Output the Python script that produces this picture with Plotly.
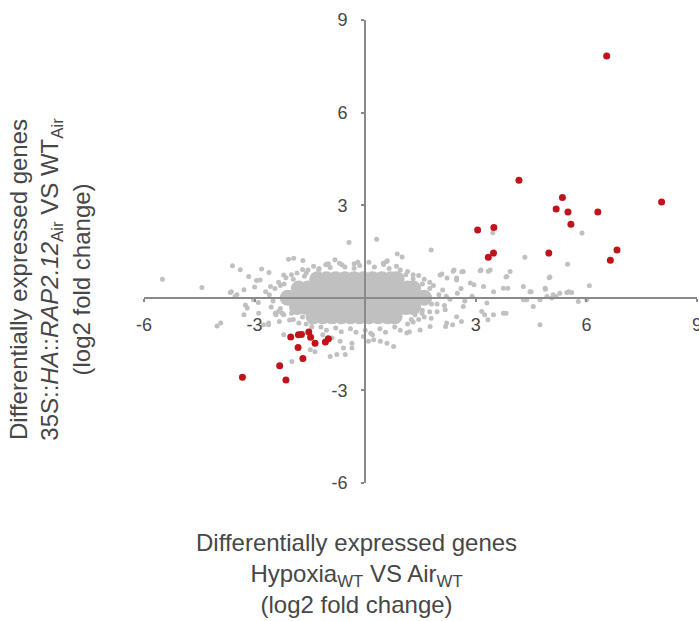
import plotly.graph_objects as go

# Log2 fold change: Hypoxia(WT) vs Air(WT) on x, 35S::HA::RAP2.12(Air) vs WT(Air) on y

# Dense body of the gene cloud near the origin (rows of overlapping markers)
core_x = [-1.3, -1.05, -0.8, -0.55, -0.3, -0.05, 0.2, 0.45, 0.7, 0.85,
          -1.8, -1.55, -1.3, -1.05, -0.8, -0.55, -0.3, -0.05, 0.2, 0.45, 0.7, 0.95, 1.15, 1.3,
          -2.1, -1.85, -1.6, -1.35, -1.1, -0.85, -0.6, -0.35, -0.1, 0.15, 0.4, 0.65, 0.9, 1.15, 1.4, 1.6,
          -1.85, -1.6, -1.35, -1.1, -0.85, -0.6, -0.35, -0.1, 0.15, 0.4, 0.65, 0.9, 1.1, 1.3,
          -1.4, -1.15, -0.9, -0.65, -0.4, -0.15, 0.1, 0.35, 0.6, 0.8]
core_y = ([0.6] * 10 + [0.3] * 14 + [0.0] * 16 + [-0.3] * 14 + [-0.6] * 10)

# Individual genes scattered around the dense body
gray_x = [-2.45, -2.5, -2.35, -2.15, -1.85, -1.55, -1.25, -0.95, -0.55, -0.15, 0.25, 0.65, 0.95, 1.3,
          1.6, 1.85, 2.0, 1.95, 1.75, 1.45, 1.15, 0.8, 0.4, 0.0, -0.4, -0.8, -1.2, -1.6, -1.95, -2.25,
          -2.6, -2.55, -2.3, -2.0, -1.7, -1.4, -1.05, -0.7, -0.3, 0.1, 0.5, 0.85, 1.15, 1.45, 1.75,
          2.1, 2.2, 2.3, 2.15, 1.95, 1.6, 1.3, 0.95, 0.55, 0.15, -0.25, -0.65, -1.05, -1.45, -1.8, -2.05,
          -2.2, -1.95, -1.65, 1.3, 1.55, 1.75, -2.3, -2.0, -1.7, 1.35, 1.55, 1.8, 1.1, 1.25, -1.6, -1.45,
          -5.5, -4.43, -3.6, -3.39, -2.95, -2.81, -2.61, -2.08, -1.94, -1.69, -1.07, -0.82, -1.26,
          -3.63, -3.53, -3.29, -3.2, -3.29, -2.42, -2.33, -4.02, -3.92, 0.49, 0.58, -0.3, -0.63,
          -3.66, -3.48, -3.16, -2.85, -3.25, -3.03, -2.89, -2.62, -2.44, -2.21, -2.57, -2.76, -2.62,
          -2.35, -2.21, -2.21, -1.99, -1.49, -1.36, -0.95, -0.77, -0.54, -0.68, -0.36, -0.59, -0.36,
          0.09, 0.23, 0.41, 0.59, 0.77, 1.13, 1.49, 1.76, -0.05, -1.15, -0.9,
          -0.44, 0.31, 0.87, 1.0, 1.79, 2.03, 2.22, 2.41, 2.66, 2.95, 3.14, 3.39, 2.08, 2.48,
          2.39, 2.62, 3.12, 3.34, 3.84, 4.99, 3.82, 3.87, 4.5, 4.89, 4.93, 5.18, 5.52,
          2.48, 2.85, 3.21, 3.48, 3.75, 4.29, 4.38, 3.3, 3.16, 3.48, 3.75, 2.48, 2.21, 2.66, 2.17,
          3.93, 5.01, 6.08, 4.47, 4.88, 5.1, 5.28, 5.47, 5.6, 4.29, 4.56, 4.74, 5.78, 6.01, 4.74, 5.06,
          3.82, 3.24, 3.33, 2.18, 2.37, 2.61, 1.54, 1.79,
          3.46, 5.88, 4.33, 5.49, 0.6, -0.2, -1.0, 1.2, -1.7, 0.2,
          2.5, 2.7, 2.9, 2.6, -2.7, -2.9, -3.0]
gray_y = [0.3, -0.1, 0.5, 0.65, 0.8, 0.9, 0.95, 0.98, 1.0, 1.05, 1.0, 0.95, 0.9, 0.75,
          0.6, 0.4, 0.1, -0.2, -0.45, -0.7, -0.85, -0.95, -1.0, -1.05, -1.0, -0.98, -0.95, -0.85, -0.7, -0.5,
          0.1, -0.3, 0.4, 0.75, 0.92, 1.02, 1.08, 1.12, 1.1, 1.15, 1.08, 1.02, 0.85, 0.72, 0.5,
          0.25, 0.05, -0.05, -0.25, -0.45, -0.62, -0.78, -1.05, -1.12, -1.15, -1.12, -1.1, -1.05, -0.95, -0.82, -0.72,
          0.45, 0.6, 0.7, 0.62, 0.45, 0.3, -0.35, -0.5, -0.62, -0.55, -0.4, -0.2, 0.75, -0.7, 0.8, -0.8,
          0.6, 0.33, 1.04, 0.91, 0.56, 0.93, 0.82, 1.25, 1.28, 1.21, 1.07, 1.23, 0.91,
          0.2, 0.04, 0.26, -0.33, -0.55, -0.55, -0.77, -0.91, -0.82, 1.12, 1.18, 0.96, 1.07,
          0.17, 0.1, 0.69, 0.58, -0.23, -0.06, -0.5, -0.82, -0.5, 0.74, 0.37, -0.87, -0.87,
          -0.44, -0.55, -1.2, -2.06, -1.68, -1.75, -1.9, -1.84, -1.84, -1.41, -1.47, -1.63, -1.63,
          -1.41, -1.36, -1.41, -1.47, -1.58, -1.14, -1.04, -0.93, -1.25, -1.2, -1.3,
          1.79, 1.9, 1.42, 1.32, 1.55, 0.74, 0.64, 0.9, 0.85, 0.42, 0.9, 0.9, 0.77, 0.64,
          0.86, 0.84, 0.88, 0.86, 0.69, 0.65, 0.67, 0.31, 0.2, 0.28, 0.04, 0.04, 0.2,
          0.58, 0.48, 0.37, 0.2, 0.31, 0.37, -0.06, -0.17, -0.44, -0.55, -0.5, -0.61, -0.82, -0.28, -0.39,
          0.85, 0.67, 0.39, 0.2, 0.31, 0.1, 0.15, 0.17, 0.17, -0.06, -0.28, -0.87, -0.12, -0.06, -0.06, -0.01,
          -0.5, -0.55, -0.71, -0.93, -0.87, -0.77, -0.5, -0.66,
          2.11, 2.1, 1.31, 1.09, 1.2, 1.15, 1.1, -1.1, -1.15, -1.2,
          0.15, -0.1, 0.05, 0.3, 0.2, -0.15, 0.35]

# Genes differentially expressed in both comparisons
red_x = [6.55, 4.17, 5.35, 5.18, 5.5, 6.31, 8.04, 5.58, 3.05, 3.49, 3.48, 3.34, 4.98, 6.83, 6.65,
         -2.02, -1.81, -1.73, -1.53, -1.48, -1.36, -1.08, -1.0, -1.82, -1.69, -2.32, -3.33, -2.15]
red_y = [7.83, 3.81, 3.25, 2.88, 2.78, 2.78, 3.1, 2.38, 2.2, 2.28, 1.45, 1.31, 1.45, 1.55, 1.22,
         -1.27, -1.2, -1.19, -1.11, -1.28, -1.47, -1.43, -1.33, -1.61, -1.97, -2.2, -2.57, -2.66]

tick_vals = [-6, -3, 3, 6, 9]
tick_text = ["-6", "-3", "3", "6", "9"]

GRAY = "#c0c0c0"
RED = "#c0141c"
AXIS = "#8a8a8a"
TEXT = "#474747"
FONT = "Liberation Sans, Arial, sans-serif"

fig = go.Figure()
fig.add_trace(go.Scatter(x=core_x, y=core_y, mode="markers",
                         marker=dict(size=16, color=GRAY, line=dict(width=0)),
                         hoverinfo="skip", showlegend=False))
fig.add_trace(go.Scatter(x=gray_x, y=gray_y, mode="markers",
                         marker=dict(size=5, color=GRAY, line=dict(width=0)),
                         showlegend=False))
fig.add_trace(go.Scatter(x=red_x, y=red_y, mode="markers",
                         marker=dict(size=7, color=RED, line=dict(width=0)),
                         showlegend=False))

axis_common = dict(
    range=[-6, 9], tickmode="array", tickvals=tick_vals, ticktext=tick_text,
    showgrid=False, zeroline=False, showline=True, linecolor=AXIS, linewidth=2,
    ticks="outside", ticklen=3, tickwidth=1.5, tickcolor=AXIS,
    tickfont=dict(family=FONT, size=18, color=TEXT),
    anchor="free", position=0.4, fixedrange=True,
    ticklabeloverflow="allow", automargin=False,
)

fig.update_layout(
    width=699, height=621,
    margin=dict(l=144, r=2, t=20, b=138),
    paper_bgcolor="white", plot_bgcolor="white",
    xaxis=dict(**axis_common, ticklabelstandoff=8),
    yaxis=dict(**axis_common, ticklabelstandoff=10),
    font=dict(family=FONT, color=TEXT),
)

fig.add_annotation(
    xref="paper", yref="paper", x=0.385, y=-0.196,
    text="Differentially expressed genes<br>Hypoxia<sub>WT</sub> VS Air<sub>WT</sub><br>(log2 fold change)",
    showarrow=False, font=dict(family=FONT, size=24, color=TEXT),
    align="center", xanchor="center", yanchor="middle",
)
fig.add_annotation(
    xref="paper", yref="paper", x=-0.171, y=0.44,
    text="Differentially expressed genes<br>35S::<i>HA</i>::<i>RAP2.12</i><sub>Air</sub> VS WT<sub>Air</sub><br>(log2 fold change)",
    showarrow=False, textangle=-90, font=dict(family=FONT, size=24, color=TEXT),
    align="center", xanchor="center", yanchor="middle",
)

fig.write_html("out.html")
